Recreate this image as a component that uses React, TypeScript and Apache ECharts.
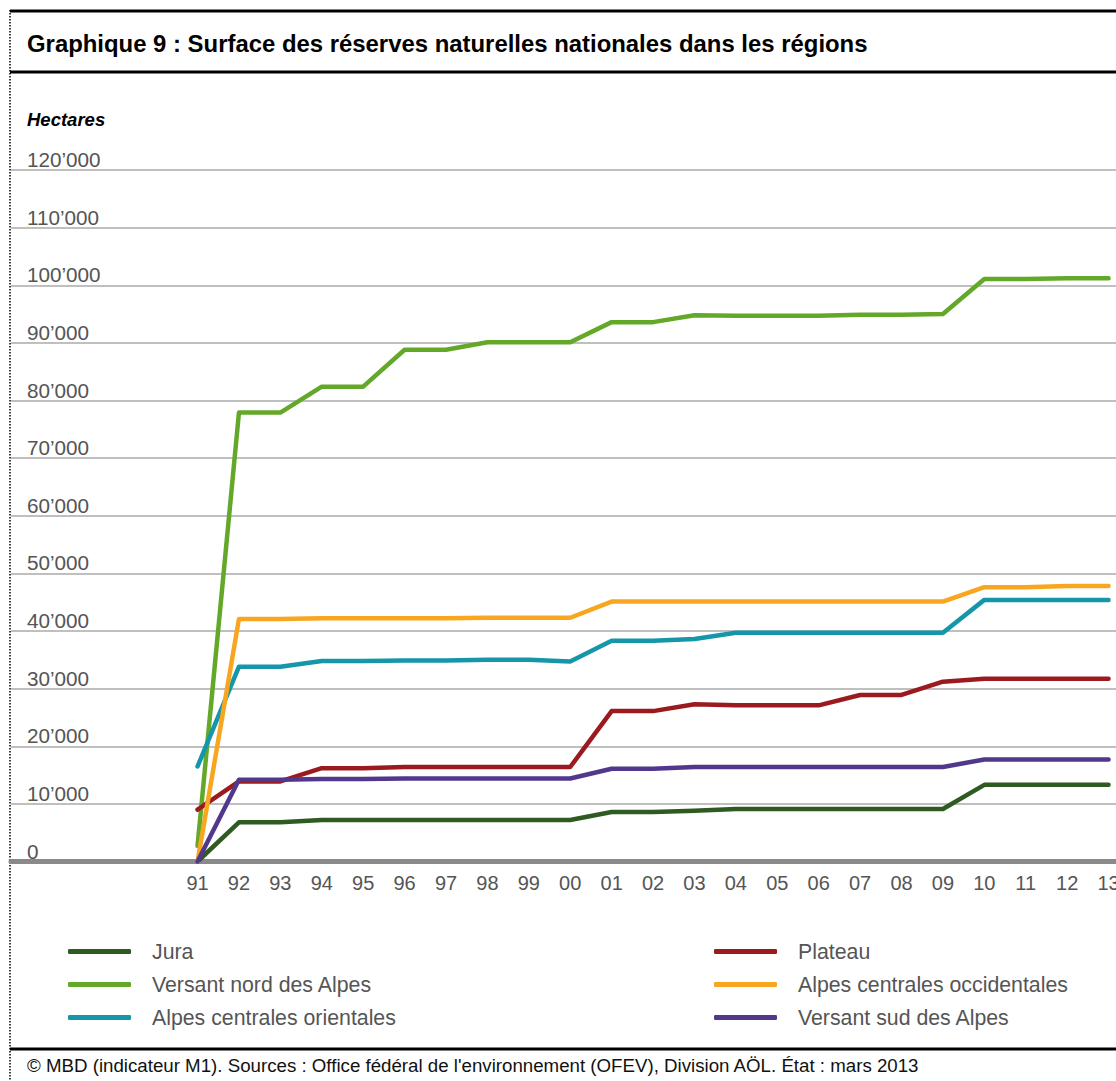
import React, { useEffect, useRef } from "react";
import * as echarts from "echarts";

const years = [1991, 1992, 1993, 1994, 1995, 1996, 1997, 1998, 1999, 2000, 2001, 2002, 2003, 2004, 2005, 2006, 2007, 2008, 2009, 2010, 2011, 2012, 2013];

const jura = [0, 6800, 6800, 7200, 7200, 7200, 7200, 7200, 7200, 7200, 8600, 8600, 8800, 9100, 9100, 9100, 9100, 9100, 9100, 13300, 13300, 13300, 13300];
const versantNord = [2700, 77900, 77900, 82400, 82400, 88800, 88800, 90100, 90100, 90100, 93600, 93600, 94800, 94700, 94700, 94700, 94900, 94900, 95000, 101100, 101100, 101200, 101200];
const alpesOrientales = [16500, 33800, 33800, 34800, 34800, 34900, 34900, 35000, 35000, 34700, 38300, 38300, 38600, 39700, 39700, 39700, 39700, 39700, 39700, 45400, 45400, 45400, 45400];
const plateau = [9000, 13900, 13900, 16200, 16200, 16400, 16400, 16400, 16400, 16400, 26100, 26100, 27300, 27100, 27100, 27100, 28900, 28900, 31200, 31700, 31700, 31700, 31700];
const alpesOccidentales = [0, 42100, 42100, 42200, 42200, 42200, 42200, 42300, 42300, 42300, 45100, 45100, 45100, 45100, 45100, 45100, 45100, 45100, 45100, 47600, 47600, 47800, 47800];
const versantSud = [0, 14200, 14200, 14300, 14300, 14400, 14400, 14400, 14400, 14400, 16100, 16100, 16400, 16400, 16400, 16400, 16400, 16400, 16400, 17700, 17700, 17700, 17700];

const seriesNames = [
  "Jura",
  "Versant nord des Alpes",
  "Alpes centrales orientales",
  "Plateau",
  "Alpes centrales occidentales",
  "Versant sud des Alpes",
];
const legendLeftNames = ["Jura", "Versant nord des Alpes", "Alpes centrales orientales"];
const legendRightNames = ["Plateau", "Alpes centrales occidentales", "Versant sud des Alpes"];
const seriesValues = [jura, versantNord, alpesOrientales, plateau, alpesOccidentales, versantSud];
const seriesColors = ["#2f5b22", "#64a82a", "#1596a9", "#9b1a20", "#f8a620", "#52388d"];

const yTicks = [0, 10000, 20000, 30000, 40000, 50000, 60000, 70000, 80000, 90000, 100000, 110000, 120000];

const titleText = "Graphique 9 : Surface des réserves naturelles nationales dans les régions";
const unitText = "Hectares";
const footerText = "© MBD (indicateur M1). Sources : Office fédéral de l'environnement (OFEV), Division AÖL. État : mars 2013";

const FONT = "'Liberation Sans', Arial, Helvetica, sans-serif";

export default function App() {
  const ref = useRef<HTMLDivElement>(null);
  useEffect(() => {
    if (!ref.current) return;
    const chart = echarts.init(ref.current, null, { renderer: "svg" });
    const fmt = (v: number) => {
      if (v === 0) return "0";
      const s = String(Math.round(v));
      return s.slice(0, s.length - 3) + "\u2019" + s.slice(s.length - 3);
    };
    const legendBase = {
      orient: "vertical",
      top: 936,
      itemWidth: 63,
      itemHeight: 5,
      itemGap: 12,
      icon: "roundRect",
      textStyle: { color: "#555555", fontSize: 21.3, fontFamily: FONT, lineHeight: 21, padding: [0, 0, 0, 16] },
      selectedMode: false,
    };
    const option: any = {
      animation: false,
      backgroundColor: "#ffffff",
      grid: { left: 11, right: 0, top: 170, bottom: 219.5, containLabel: false, outerBoundsMode: "none" },
      xAxis: {
        type: "value",
        min: 1986.495,
        max: 2013.18,
        axisLine: { show: true, lineStyle: { color: "#8a8a8a", width: 5 } },
        axisTick: { show: false },
        splitLine: { show: false },
        axisLabel: {
          customValues: years,
          formatter: (v: number) => String(v % 100).padStart(2, "0"),
          color: "#555555",
          fontSize: 20,
          fontFamily: FONT,
          margin: 11,
          hideOverlap: false,
        },
        z: 1,
      },
      yAxis: {
        type: "value",
        min: 0,
        max: 120000,
        interval: 10000,
        axisLine: { show: false },
        axisTick: { show: false },
        splitLine: { show: true, lineStyle: { color: "#bfbfbf", width: 2 } },
        axisLabel: {
          inside: true,
          margin: 16,
          verticalAlign: "bottom",
          color: "#555555",
          fontSize: 20.7,
          fontFamily: FONT,
          formatter: (v: number) => (yTicks.indexOf(v) >= 0 ? fmt(v) : ""),
        },
      },
      legend: [
        { ...legendBase, data: legendLeftNames, left: 63 },
        { ...legendBase, data: legendRightNames, left: 709 },
      ],
      series: seriesNames.map((name, i) => ({
        name,
        type: "line",
        data: years.map((y, j) => [y, seriesValues[i][j]]),
        showSymbol: false,
        symbol: "none",
        color: seriesColors[i],
        lineStyle: { color: seriesColors[i], width: 4.5, join: "round", cap: "round" },
        z: 3,
        clip: false,
      })),
      graphic: [
        { type: "line", shape: { x1: 10, y1: 10, x2: 10, y2: 1081 }, style: { stroke: "#000", lineWidth: 1.5, lineDash: [1.5, 1.5] }, silent: true },
        { type: "line", shape: { x1: 10, y1: 11, x2: 1116, y2: 11 }, style: { stroke: "#000", lineWidth: 3 }, silent: true },
        { type: "line", shape: { x1: 10, y1: 72, x2: 1116, y2: 72 }, style: { stroke: "#000", lineWidth: 3 }, silent: true },
        { type: "line", shape: { x1: 10, y1: 1049, x2: 1116, y2: 1049 }, style: { stroke: "#000", lineWidth: 3 }, silent: true },
        {
          type: "text", left: 27, top: 31,
          style: { text: titleText, font: `bold 23.9px ${FONT}`, fill: "#000" },
          silent: true,
        },
        {
          type: "text", left: 27, top: 110,
          style: { text: unitText, font: `italic bold 18.5px ${FONT}`, fill: "#000" },
          silent: true,
        },
        {
          type: "text", left: 27, top: 1056,
          style: { text: footerText, font: `18.7px ${FONT}`, fill: "#111" },
          silent: true,
        },
      ],
    };
    chart.setOption(option);
    return () => chart.dispose();
  }, []);
  return (
    <div
      ref={ref}
      style={{ position: "absolute", left: 0, top: 0, width: 1116, height: 1081, background: "#fff" }}
    />
  );
}
